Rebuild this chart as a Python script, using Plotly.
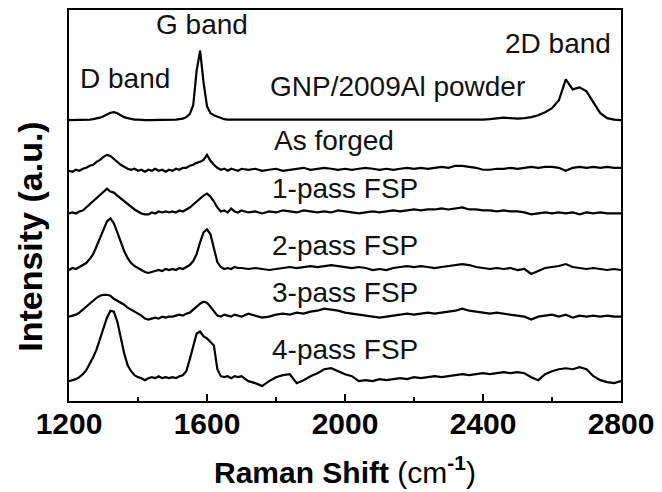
import plotly.graph_objects as go

# Raman shift sampling (cm^-1)
shift_low = [1200, 1210, 1220, 1230, 1240, 1250, 1260, 1270, 1280, 1290,
             1300, 1310, 1320, 1330, 1340, 1350, 1360, 1370, 1380, 1390,
             1400, 1410, 1420, 1430, 1440, 1450, 1460, 1470, 1480, 1490,
             1500, 1510, 1520, 1530, 1540, 1550, 1560, 1570, 1580, 1590,
             1600, 1610, 1620, 1630, 1640, 1650, 1660, 1670, 1680, 1690,
             1700]
shift_high = [1720, 1740, 1760, 1780, 1800, 1820, 1840, 1860, 1880, 1900,
              1920, 1940, 1960, 1980, 2000, 2020, 2040, 2060, 2080, 2100,
              2120, 2140, 2160, 2180, 2200, 2220, 2240, 2260, 2280, 2300,
              2320, 2340, 2360, 2380, 2400, 2420, 2440, 2460, 2480, 2500,
              2520, 2540, 2560, 2580, 2600, 2620, 2640, 2660, 2680, 2700,
              2720, 2740, 2760, 2780, 2800]

# Intensities (a.u.), relative to each spectrum's own baseline
powder_low = [0, 0, 0.5, 0, 0.5, 0.5, 0.5, 1, 1.5, 2.5,
              4, 6, 7.5, 8, 7, 5, 3, 2, 1, 0.5,
              0.5, 0, 0, 0, 0, 0, 0, 0, 0, 0,
              0.5, 0.5, 1, 1.5, 3, 6, 15, 50, 70, 38,
              14, 7, 5, 3.5, 2, 1, 0.5, 0.5, 0, 0,
              0]
powder_high = [0, 0, 0, 0, 0, 0, 0, 0, 0, 0,
               0, 0, 0, 0, 0, 0, 0, 0, 0, 0,
               0, 0, 0, 0.5, 0.5, 0.5, 0, 0, 0, 0,
               0, 0, 0, 0, 0.5, 1, 2, 2.5, 2, 1.5,
               2, 3, 5, 8, 12, 20, 41, 31, 33, 29,
               18, 7, 2, 0.5, 0]

forged_low = [0, -1, 1, 0, 2, 3, 5, 6, 9, 11,
              14, 16, 15, 12, 9, 6, 4, 2, 1, 2,
              0, 1, -1, 1, 0, 2, 0, 1, -1, 1,
              0, 2, 1, 3, 3, 5, 6, 8, 9, 11,
              16, 10, 6, 3, 1, 2, 0, 2, 1, 0,
              2]
forged_high = [1, 2, 0, 1, 2, 0, 1, 2, 3, 1,
               2, 3, 2, 1, 2, 1, 2, 3, 2, 1,
               2, 1, 2, 3, 2, 3, 2, 3, 4, 3,
               5, 5, 4, 3, 1, 1, 2, 2, 3, 2,
               3, 4, 3, 4, 4, 3, 0, 3, 4, 3,
               4, 3, 4, 3, 3]

pass1_low = [0, 1, 0, 2, 3, 6, 9, 12, 15, 18,
             21, 25, 22, 21, 18, 15, 12, 9, 6, 4,
             2, 0, -1, -1, 1, 0, 2, 1, 2, 1,
             2, 1, 3, 2, 4, 6, 9, 12, 15, 18,
             20, 17, 12, 6, 2, 3, 1, 5, 2, 1,
             3]
pass1_high = [1, 2, 0, 2, 1, 3, 2, 1, 3, 2,
              1, 2, 1, 3, 2, 1, 0, 1, 2, 1,
              2, 3, 2, 3, 4, 3, 4, 4, 5, 4,
              5, 6, 4, 4, 3, 3, 2, 3, 2, 2,
              1, -1, 0, 1, 0, 1, 0, 1, -1, 1,
              0, 1, 0, 0, 0]

pass2_low = [0, 2, 1, 3, 5, 7, 11, 16, 24, 33,
             42, 49, 52, 47, 38, 28, 19, 12, 7, 4,
             2, 0, -2, -3, -2, -1, 0, -1, 1, 0,
             1, 0, 2, 1, 3, 5, 9, 16, 28, 38,
             41, 36, 22, 8, 3, 1, 2, 1, 3, 2,
             2]
pass2_high = [1, 2, 1, 0, 1, 2, 3, 2, 3, 4,
              3, 4, 5, 4, 3, 2, 3, 2, 0, 1,
              0, 2, 3, 4, 3, 4, 3, 2, 3, 4,
              5, 6, 5, 3, 2, 1, 2, 1, 2, 0,
              1, -4, -1, 2, 3, 4, 6, 3, 2, 1,
              2, 1, 0, 1, 0]

pass3_low = [0, 1, 2, 4, 7, 10, 13, 16, 19, 21,
             22, 22, 21, 18, 16, 14, 12, 9, 7, 5,
             3, 1, -2, -3, -2, -1, -2, 0, -1, 0,
             0, 1, 2, 1, 3, 4, 7, 10, 13, 15,
             14, 10, 5, 1, 0, 2, 1, 0, 2, 1,
             0]
pass3_high = [3, 1, -1, 0, 2, 3, 2, 4, 3, 5,
              6, 8, 7, 6, 4, 3, 2, 1, 0, -1,
              0, 1, 2, 3, 2, 3, 4, 3, 4, 5,
              6, 8, 6, 5, 4, 3, 4, 3, 2, 1,
              0, -3, 0, 1, 2, 0, 2, -1, 1, 0,
              1, 0, 1, 0, 0]

pass4_low = [-2, -1, 0, 2, 5, 9, 15, 22, 30, 40,
             52, 62, 69, 68, 58, 42, 26, 14, 8, 4,
             2, 1, -1, 1, 2, 1, 3, 1, 2, 1,
             2, 1, 3, 4, 8, 20, 34, 46, 48, 43,
             41, 38, 34, 10, 3, 2, 3, 1, 3, 2,
             3]
pass4_high = [-2, -4, -7, -2, 2, 4, 5, -4, -1, 3,
              6, 10, 11, 8, 5, 3, -2, -1, -2, 0,
              -1, 0, 1, 0, 2, 1, 2, 3, 2, 3,
              4, 5, 4, 5, 6, 5, 6, 7, 6, 7,
              6, 2, -1, 5, 8, 10, 11, 10, 12, 10,
              3, -1, -3, -4, -2]

spectra_names = ["GNP/2009Al powder", "As forged", "1-pass FSP",
                 "2-pass FSP", "3-pass FSP", "4-pass FSP"]
spectra = [powder_low + powder_high, forged_low + forged_high,
           pass1_low + pass1_high, pass2_low + pass2_high,
           pass3_low + pass3_high, pass4_low + pass4_high]
stack_offsets = [283, 232, 189, 132, 85, 22]

shift = shift_low + shift_high

fig = go.Figure()
for name, vals, off in zip(spectra_names, spectra, stack_offsets):
    fig.add_trace(go.Scatter(
        x=shift, y=[v + off for v in vals], mode="lines", name=name,
        line=dict(color="#000000", width=2.2), showlegend=False))

FONT = "Liberation Sans, Arial, sans-serif"
label_font = dict(family=FONT, size=28, color="#111111")
labels = [
    ("D band", 1361, 325),
    ("G band", 1586, 379),
    ("2D band", 2618, 360),
    ("GNP/2009Al powder", 2151, 317),
    ("As forged", 1967, 263),
    ("1-pass FSP", 2001, 214),
    ("2-pass FSP", 2001, 157),
    ("3-pass FSP", 2001, 109),
    ("4-pass FSP", 2001, 52),
]
for text, lx, ly in labels:
    fig.add_annotation(x=lx, y=ly, xref="x", yref="y", text=text,
                       showarrow=False, font=label_font,
                       xanchor="center", yanchor="middle")

# y-axis title
fig.add_annotation(x=0, y=0.42, xref="paper", yref="paper",
                   text="<b>Intensity (a.u.)</b>", textangle=-90,
                   showarrow=False, xanchor="center", yanchor="middle",
                   xshift=-39,
                   font=dict(family=FONT, size=34, color="#000000"))

axis_font = dict(family=FONT, size=30, color="#000000", weight="bold")
fig.update_layout(
    width=662, height=492,
    margin=dict(l=69, r=38, t=8, b=90),
    paper_bgcolor="white", plot_bgcolor="white",
    xaxis=dict(
        range=[1200, 2800],
        tickvals=[1200, 1600, 2000, 2400, 2800],
        ticks="inside", ticklen=7, tickwidth=2, tickcolor="#000000",
        minor=dict(ticks="inside", ticklen=4, tickwidth=2, dtick=200,
                   tick0=1200, tickcolor="#000000"),
        showline=True, linewidth=2, linecolor="#000000", mirror=True,
        showgrid=False, zeroline=False,
        tickfont=axis_font,
        ticklabelstandoff=-5,
        title=dict(text="<b>Raman Shift</b> (cm<sup><b>-1</b></sup>)",
                   font=dict(family=FONT, size=30, color="#000000"),
                   standoff=23),
    ),
    yaxis=dict(
        range=[0, 394],
        showticklabels=False, ticks="",
        showline=True, linewidth=2, linecolor="#000000", mirror=True,
        showgrid=False, zeroline=False,
    ),
)

fig.write_html("out.html")
